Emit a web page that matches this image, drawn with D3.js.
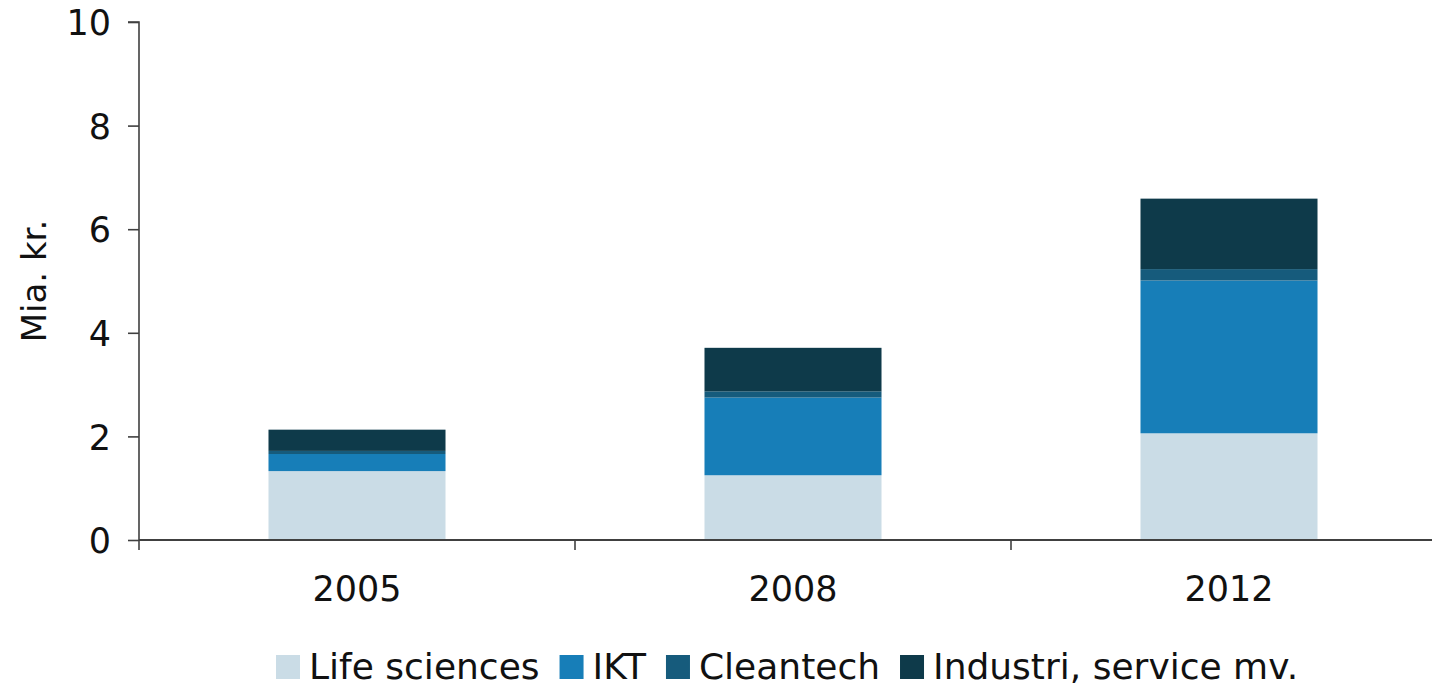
<!DOCTYPE html>
<html>
<head>
<meta charset="utf-8">
<script src="https://cdn.jsdelivr.net/npm/d3@7"></script>
<style>
  body { margin: 0; background: #fff; }
  svg text { font-family: "DejaVu Sans", Verdana, sans-serif; fill: #111; }
</style>
</head>
<body>
<div id="chart"></div>
<script>
// data
var years = ["2005", "2008", "2012"];
var seriesNames = ["Life sciences", "IKT", "Cleantech", "Industri, service mv."];
var lifeSciences = [1.33, 1.25, 2.06];
var ikt = [0.33, 1.50, 2.95];
var cleantech = [0.06, 0.12, 0.22];
var industri = [0.41, 0.84, 1.36];
var colors = ["#cadce6", "#177eb8", "#165b7c", "#0e3a4a"];
var yTicks = [0, 2, 4, 6, 8, 10];

var width = 1432, height = 688;
var margin = {top: 22, right: -15, bottom: 148, left: 139};
var innerW = width - margin.left - margin.right,
    innerH = height - margin.top - margin.bottom;

var svg = d3.select("#chart").append("svg")
    .attr("width", width)
    .attr("height", height);

var g = svg.append("g")
    .attr("transform", "translate(" + margin.left + "," + margin.top + ")");

// build rows for the stack
var rows = years.map(function(y, i) {
  return {
    year: y,
    "Life sciences": lifeSciences[i],
    "IKT": ikt[i],
    "Cleantech": cleantech[i],
    "Industri, service mv.": industri[i]
  };
});
var stacked = d3.stack().keys(seriesNames)(rows);

var x = d3.scaleBand().domain(years).range([0, innerW])
    .paddingInner(0.594).paddingOuter(0.297);
var y = d3.scaleLinear().domain([0, 10]).range([innerH, 0]);

// bars
g.selectAll("g.layer")
  .data(stacked)
  .enter().append("g")
    .attr("class", "layer")
    .attr("fill", function(d, i) { return colors[i]; })
  .selectAll("rect")
  .data(function(d) { return d; })
  .enter().append("rect")
    .attr("x", function(d) { return x(d.data.year); })
    .attr("y", function(d) { return y(d[1]); })
    .attr("width", x.bandwidth())
    .attr("height", function(d) { return y(d[0]) - y(d[1]); });

// y axis
var yAxis = g.append("g")
    .call(d3.axisLeft(y).tickValues(yTicks).tickSize(11).tickPadding(17));
yAxis.selectAll("text").style("font-size", "35px").attr("dy", "0.36em");
yAxis.selectAll("line, path").attr("stroke", "#404040").attr("stroke-width", 1.6);
yAxis.select(".domain").attr("d", "M-11," + y(10) + "H0V" + innerH);

// x axis line and separator ticks
var step = x.step();
g.append("line")
    .attr("x1", 0).attr("x2", width - margin.left)
    .attr("y1", innerH).attr("y2", innerH)
    .attr("stroke", "#404040").attr("stroke-width", 2);
[0, 1, 2].forEach(function(i) {
  var xp = x(years[i]) - step * 0.297;
  g.append("line")
    .attr("x1", xp).attr("x2", xp)
    .attr("y1", innerH).attr("y2", innerH + 10)
    .attr("stroke", "#404040").attr("stroke-width", 1.6);
});
g.selectAll("text.xlab")
  .data(years)
  .enter().append("text")
    .attr("class", "xlab")
    .attr("x", function(d) { return x(d) + x.bandwidth() / 2; })
    .attr("y", innerH + 61)
    .attr("text-anchor", "middle")
    .style("font-size", "35px")
    .text(function(d) { return d; });

// y axis title
svg.append("text")
    .attr("transform", "translate(46," + 281 + ") rotate(-90)")
    .attr("text-anchor", "middle")
    .style("font-size", "34px")
    .text("Mia. kr.");

// legend
var lx = 276, ly = 679;
seriesNames.forEach(function(name, i) {
  svg.append("rect")
    .attr("x", lx).attr("y", ly - 24)
    .attr("width", 24).attr("height", 24)
    .attr("fill", colors[i]);
  var t = svg.append("text")
    .attr("x", lx + 33).attr("y", ly)
    .style("font-size", "36px")
    .text(name);
  lx = lx + 33 + t.node().getComputedTextLength() + 20;
});
</script>
</body>
</html>
